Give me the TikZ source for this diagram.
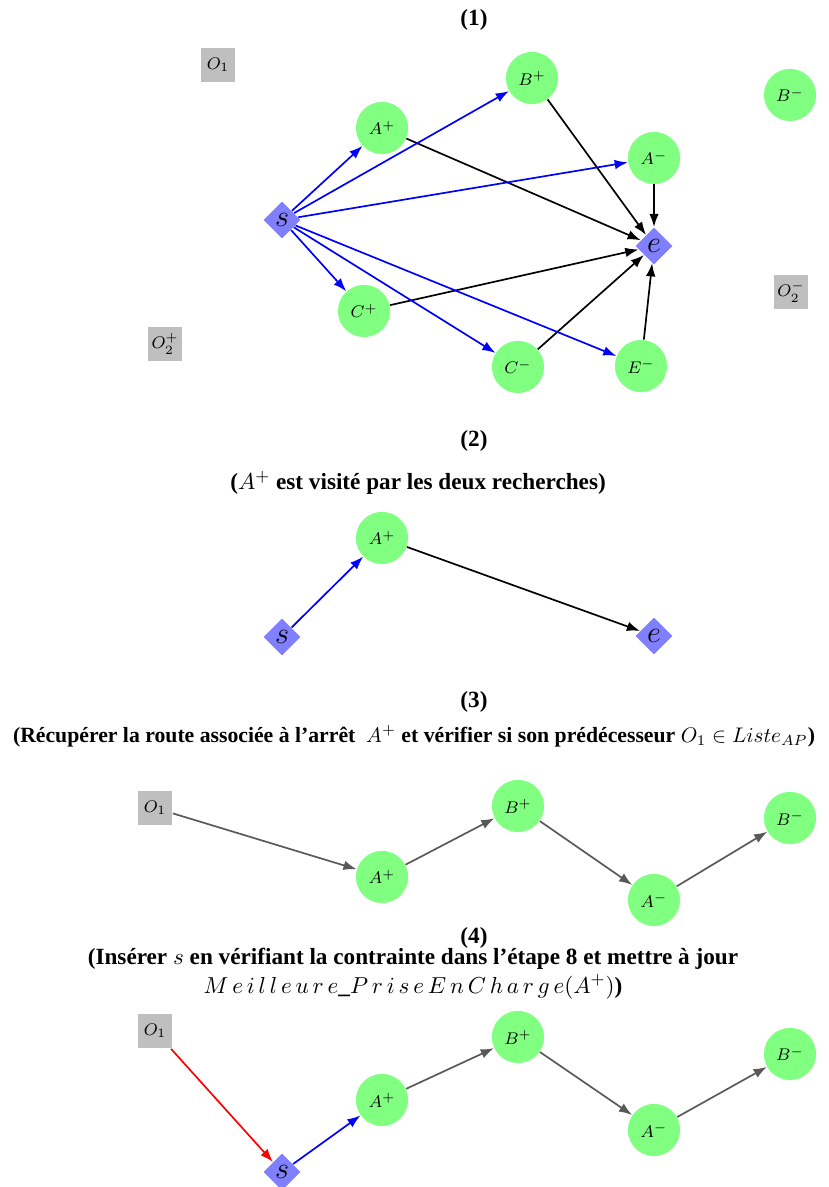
\documentclass[tikz,border=0pt]{standalone}
\usepackage{fontspec}
\setmainfont{Liberation Serif}
\usetikzlibrary{shapes.geometric,arrows.meta}

\begin{document}
\begin{tikzpicture}[
    every node/.style={font=\normalsize},
    arret/.style={circle, fill=green!50, minimum size=0.87cm, inner sep=0pt, font=\footnotesize},
    extremite/.style={diamond, fill=blue!50, minimum size=0.62cm, inner sep=0pt, font=\Large},
    origine/.style={rectangle, fill=gray!50, minimum size=0.58cm, inner sep=0pt, font=\footnotesize},
    titre/.style={font=\fontsize{11}{13.5}\selectfont\bfseries},
    aller/.style={-{Latex[length=2.2mm,width=1.6mm]}, thick, blue},
    retour/.style={-{Latex[length=2.2mm,width=1.6mm]}, thick, black},
    route/.style={-{Latex[length=2.2mm,width=1.6mm]}, thick, black!65},
    insertion/.style={-{Latex[length=2.2mm,width=1.6mm]}, thick, red}
  ]
    \useasboundingbox (0,0) rectangle (13.8,19.783);

    % Etape 1
    \node[titre] (t1) at (7.9, 19.45) {(1)};
    \node[origine] (o1a) at (3.633, 18.70) {$O_1$};
    \node[arret] (bpa) at (8.867, 18.483) {$B^+$};
    \node[arret] (apa) at (6.367, 17.65) {$A^+$};
    \node[arret] (bma) at (13.167, 18.2) {$B^-$};
    \node[arret] (ama) at (10.9, 17.15) {$A^-$};
    \node[extremite] (sa) at (4.7, 16.117) {$s$};
    \node[extremite] (ea) at (10.9, 15.683) {$e$};
    \node[origine] (o2ma) at (13.183, 14.917) {$O_2^-$};
    \node[arret] (cpa) at (6.067, 14.6) {$C^+$};
    \node[origine] (o2pa) at (2.75, 14.05) {$O_2^+$};
    \node[arret] (cma) at (8.633, 13.667) {$C^-$};
    \node[arret] (ema) at (10.683, 13.683) {$E^-$};
    \foreach \n in {apa,bpa,ama,cpa,cma,ema} {
      \draw[aller] (sa) -- (\n);
      \draw[retour] (\n) -- (ea);
    }

    % Etape 2
    \node[titre] (t2) at (7.9, 12.433) {(2)};
    \node[titre] (c2) at (6.967, 11.733) {($A^+$ est visité par les deux recherches)};
    \node[arret] (apb) at (6.367, 10.817) {$A^+$};
    \node[extremite] (sb) at (4.7, 9.167) {$s$};
    \node[extremite] (eb) at (10.9, 9.183) {$e$};
    \draw[aller] (sb) -- (apb);
    \draw[retour] (apb) -- (eb);

    % Etape 3
    \node[titre] (t3) at (7.9, 8.083) {(3)};
    \node[titre, font=\fontsize{10.3}{12.5}\selectfont\bfseries] (c3) at (6.9, 7.517) {(Récupérer la route associée à l'arrêt ~$A^+$ et vérifier si son prédécesseur $O_1 \in Liste_{AP}$)};
    \node[origine] (o1c) at (2.583, 6.317) {$O_1$};
    \node[arret] (apc) at (6.367, 5.167) {$A^+$};
    \node[arret] (bpc) at (8.633, 6.35) {$B^+$};
    \node[arret] (amc) at (10.9, 4.783) {$A^-$};
    \node[arret] (bmc) at (13.167, 6.15) {$B^-$};
    \draw[route] (o1c) -- (apc);
    \draw[route] (apc) -- (bpc);
    \draw[route] (bpc) -- (amc);
    \draw[route] (amc) -- (bmc);

    % Etape 4
    \node[titre] (t4) at (7.9, 4.15) {(4)};
    \node[titre, align=center] (c4) at (6.883, 3.558) {(Insérer $s$ en vérifiant la contrainte dans l'étape 8 et mettre à jour\\ $M\,e\,i\,l\,l\,e\,u\,r\,e\_P\,r\,i\,s\,e\,E\,n\,C\,h\,a\,r\,g\,e(A^+)$)};
    \node[origine] (o1d) at (2.583, 2.6) {$O_1$};
    \node[arret] (bpd) at (8.633, 2.5) {$B^+$};
    \node[arret] (apd) at (6.367, 1.45) {$A^+$};
    \node[arret] (amd) at (10.9, 0.95) {$A^-$};
    \node[arret] (bmd) at (13.167, 2.217) {$B^-$};
    \node[extremite] (sd) at (4.7, 0.25) {$s$};
    \draw[insertion] (o1d) -- (sd);
    \draw[aller] (sd) -- (apd);
    \draw[route] (apd) -- (bpd);
    \draw[route] (bpd) -- (amd);
    \draw[route] (amd) -- (bmd);
\end{tikzpicture}
\end{document}
